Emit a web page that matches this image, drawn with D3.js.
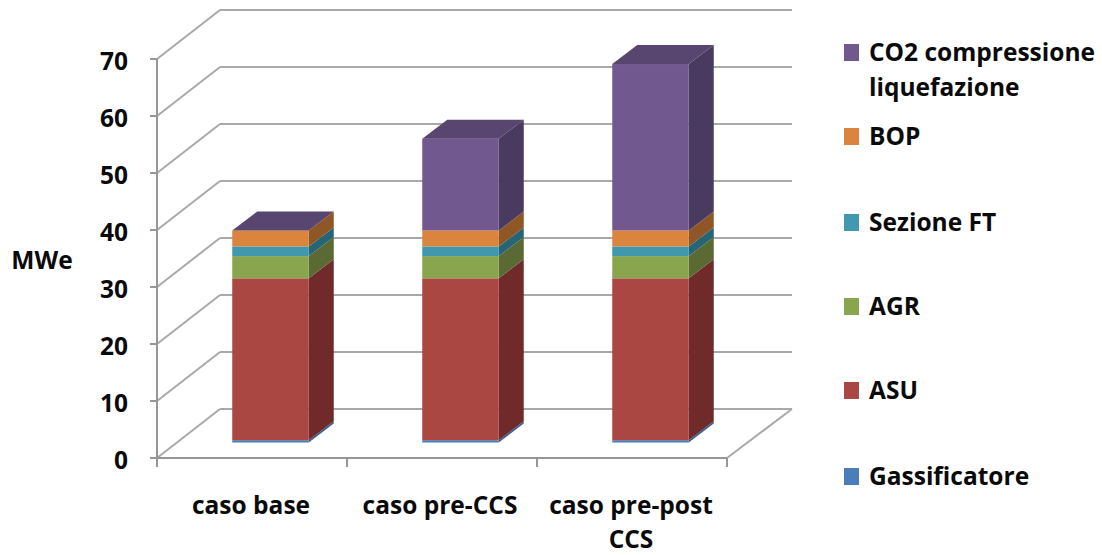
<!DOCTYPE html>
<html><head><meta charset="utf-8">
<script src="https://cdn.jsdelivr.net/npm/d3@7"></script>
<style>html,body{margin:0;background:#fff}svg{display:block}text{font-family:"Open Sans",sans-serif;font-weight:700;fill:#0a0a0a}</style>
</head><body><svg id="c" width="1102" height="555"></svg>
<script>
const categories=[["caso base"],["caso pre-CCS"],["caso pre-post","CCS"]];
const seriesNames=["Gassificatore","ASU","AGR","Sezione FT","BOP","CO2 compressione liquefazione"];
const gassificatore=[0.4,0.4,0.4];
const asu=[28.4,28.4,28.4];
const agr=[3.9,3.9,3.9];
const sezioneFT=[1.7,1.7,1.7];
const bop=[2.8,2.8,2.8];
const co2=[0,16.1,29.2];
const yTicks=[0,10,20,30,40,50,60,70];
const frontColors=["#4a7ebb","#aa4643","#89a54e","#4198af","#db843d","#71588f"];
const sideColors=["#36608f","#6f2c2b","#5a6b33","#256574","#8f5728","#4a3a5e"];
const topColors=["#3f6ba0","#843937","#6e833e","#2f7d90","#a5632c","#584570"];

const svg=d3.select("#c");
const defs=svg.append("defs");
defs.append("filter").attr("id","soft").append("feGaussianBlur").attr("stdDeviation",0.6);
const y=d3.scaleLinear().domain([0,70]).range([458,59]);
const x=d3.scaleBand().domain(d3.range(3)).range([157,727]);
const wallDx=63,wallDy=-49,barDx=25,barDy=-19,barW=76.5,barOffX=18.5,barOffY=-15.5;
const g=svg.append("g").attr("filter","url(#soft)");
const grid="#a9a9a9",axis="#969696";
const line=(a,b,c,d,col,w=2)=>g.append("line").attr("x1",a).attr("y1",b).attr("x2",c).attr("y2",d).attr("stroke",col).attr("stroke-width",w);
yTicks.forEach(t=>{
  const p=y(t);
  line(157,p,157+wallDx,p+wallDy,grid);
  line(157+wallDx,p+wallDy,792,p+wallDy,grid);
  line(150,p,157,p,axis);
});
line(727,458,792,409,grid);
line(157,y(70),157,458,axis);
line(150,458,727,458,axis);
[157,...x.domain().map(i=>x(i)+x.bandwidth())].forEach(v=>line(v,458,v,467,axis));

const series=[gassificatore,asu,agr,sezioneFT,bop,co2];
const stack=d3.stack().keys(d3.range(6)).value((d,k)=>series[k][d])(d3.range(3));
const poly=a=>a.map(p=>p.join(",")).join(" ");
categories.forEach((c,i)=>{
  const x0=x(i)+x.bandwidth()/2+barOffX-barW/2,x1=x0+barW;
  const bg=g.append("g");
  let topV=0;
  stack.forEach((s,k)=>{
    const [a,b]=s[i];
    if(b-a<=0)return;
    topV=k;
    const ya=y(a)+barOffY,yb=y(b)+barOffY;
    bg.append("polygon").attr("points",poly([[x1,ya],[x1+barDx,ya+barDy],[x1+barDx,yb+barDy],[x1,yb]])).attr("fill",sideColors[k]);
    bg.append("rect").attr("x",x0).attr("y",yb).attr("width",barW).attr("height",ya-yb).attr("fill",frontColors[k]);
  });
  const t=y(stack[topV][i][1])+barOffY;
  bg.append("polygon").attr("points",poly([[x0,t],[x0+barDx,t+barDy],[x1+barDx,t+barDy],[x1,t]])).attr("fill",topColors[5]);
});

svg.selectAll(".yl").data(yTicks).join("text").attr("class","yl")
  .attr("x",128).attr("y",d=>y(d)+11).attr("text-anchor","end").attr("font-size",24.5).text(d=>d);
svg.append("text").attr("x",42).attr("y",269).attr("text-anchor","middle").attr("font-size",24.5).text("MWe");
categories.forEach((c,i)=>{
  c.forEach((l,j)=>svg.append("text").attr("x",x(i)+x.bandwidth()/2+(i==0?-1:(i==1?-2:-1))).attr("y",514+j*34)
    .attr("text-anchor","middle").attr("font-size",24.5).text(l));
});
const legendY=[476,390,306,222,136,52];
seriesNames.forEach((n,k)=>{
  const yy=legendY[k];
  svg.append("rect").attr("x",844).attr("y",yy-8).attr("width",15).attr("height",17).attr("fill",frontColors[k]);
  const lines=k==5?["CO2 compressione","liquefazione"]:[n];
  lines.forEach((l,j)=>svg.append("text").attr("x",869).attr("y",yy+9+j*35).attr("font-size",24.5).text(l));
});
</script></body></html>
